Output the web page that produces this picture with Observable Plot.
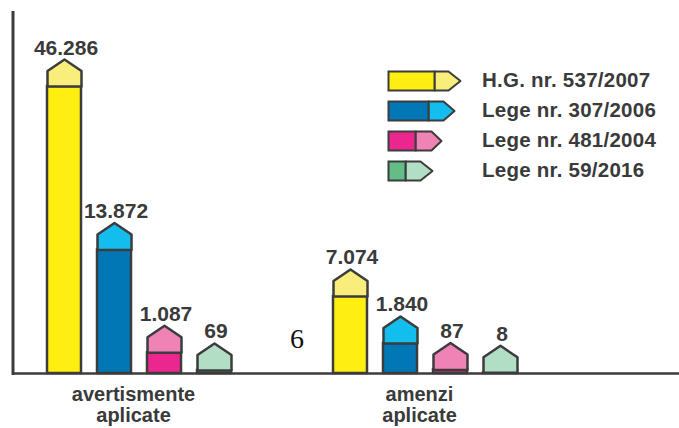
<!DOCTYPE html>
<html>
<head>
<meta charset="utf-8">
<script src="https://cdn.jsdelivr.net/npm/d3@7"></script>
<script src="https://cdn.jsdelivr.net/npm/@observablehq/plot@0.6"></script>
<style>
  body { margin: 0; background: #fff; }
  #wrap { position: relative; width: 679px; height: 428px; font-family: "Liberation Sans", Arial, sans-serif; }
  #wrap svg { display: block; }
  .legend { position: absolute; left: 387px; top: 64.5px; }
  .legend .item { position: relative; height: 30px; width: 290px; }
  .legend .item svg { position: absolute; left: 0; top: 5.5px; }
  .legend .item span { position: absolute; left: 95px; top: 0; line-height: 30px; font-size: 20.5px; letter-spacing: 0.25px; font-weight: bold; color: #3a3a3a; white-space: nowrap; }
  .stray { position: absolute; left: 290px; top: 325px; font-family: "Liberation Serif", "Times New Roman", serif; font-size: 28px; line-height: 28px; color: #111; }
</style>
</head>
<body>
<div id="wrap"></div>
<script>
// ---- data ----
const categories = ["avertismente aplicate", "amenzi aplicate"];
const seriesNames = ["H.G. nr. 537/2007", "Lege nr. 307/2006", "Lege nr. 481/2004", "Lege nr. 59/2016"];
const avertismenteValues = [46286, 13872, 1087, 69];
const amenziValues = [7074, 1840, 87, 8];
const strayLabel = "6";

// ---- styles ----
const bodyColors = ["#FFEE12", "#0177B5", "#EC268F", "#64BC86"];
const capColors = ["#F9EE7C", "#13BDEE", "#EF83B5", "#B2DEC5"];
const outline = "#3c3c3c";
const textColor = "#3a3a3a";
const legendArrow = [ // total length, dark part, tip length
  [72, 46, 12], [66, 40, 11], [53, 27, 10], [44, 17, 12]
];

const rows = [];
categories.forEach((c, ci) => {
  const vals = ci === 0 ? avertismenteValues : amenziValues;
  vals.forEach((v, si) => rows.push({category: c, series: seriesNames[si], si, value: v}));
});

const fmt = d3.formatLocale({decimal: ",", thousands: ".", grouping: [3], currency: ["", ""]}).format(",d");

// pencil-cap shape, drawn upward from the top of the bar body
const capSymbol = {
  draw(ctx) {
    ctx.moveTo(-17, 0);
    ctx.lineTo(-17, -15.5);
    ctx.lineTo(0, -27);
    ctx.lineTo(17, -15.5);
    ctx.lineTo(17, 0);
    ctx.closePath();
  }
};

const step = 50;
const marks = [];
seriesNames.forEach((s, si) => {
  const data = rows.filter(r => r.si === si);
  const dx = (si - 1.5) * step;
  marks.push(Plot.barY(data, {x: "category", y: "value", dx, fill: bodyColors[si], stroke: outline, strokeWidth: 2.5}));
  marks.push(Plot.dot(data, {x: "category", y: "value", dx, symbol: capSymbol, r: 10, fill: capColors[si], stroke: outline, strokeWidth: 2.5, strokeLinejoin: "round"}));
  marks.push(Plot.text(data, {x: "category", y: "value", dx: dx + 1.5, dy: -32, text: d => fmt(d.value), lineAnchor: "bottom", fontSize: 21, fontWeight: "bold", fill: textColor}));
});

marks.push(Plot.ruleY([0], {stroke: outline, strokeWidth: 2.5}));
marks.push(Plot.frame({anchor: "left", stroke: outline, strokeWidth: 3}));
marks.push(Plot.text(categories, {
  x: d => d, frameAnchor: "bottom", dy: 13, dx: -6, lineAnchor: "top", lineHeight: 1.05,
  text: d => d.split(" ").join("\n"), fontSize: 20, fontWeight: "bold", fill: textColor
}));

const chart = Plot.plot({
  width: 679,
  height: 428,
  marginTop: 12,
  marginBottom: 55,
  marginLeft: 12.5,
  marginRight: 0,
  style: {fontFamily: '"Liberation Sans", Arial, sans-serif', background: "#fff", overflow: "visible"},
  x: {domain: categories, paddingInner: 0.8814, paddingOuter: 0.6043, align: 0.316, axis: null},
  y: {type: "pow", exponent: 0.7, domain: [0, 46286], insetTop: 74, axis: null},
  marks
});

const wrap = document.getElementById("wrap");
wrap.appendChild(chart);

// legend
const legend = d3.select(wrap).append("div").attr("class", "legend");
seriesNames.forEach((name, i) => {
  const [L, D, T] = legendArrow[i];
  const item = legend.append("div").attr("class", "item");
  const svg = item.append("svg").attr("width", L + 3).attr("height", 19 + 3);
  const g = svg.append("g").attr("transform", "translate(1.5,1.5)");
  const h = 19;
  g.append("path")
    .attr("d", `M${D},0 L${L - T},0 L${L},${h / 2} L${L - T},${h} L${D},${h} Z`)
    .attr("fill", capColors[i]).attr("stroke", outline).attr("stroke-width", 2).attr("stroke-linejoin", "round");
  g.append("rect").attr("x", 0).attr("y", 0).attr("width", D).attr("height", h)
    .attr("fill", bodyColors[i]).attr("stroke", outline).attr("stroke-width", 2);
  item.append("span").text(name);
});

d3.select(wrap).append("div").attr("class", "stray").text(strayLabel);
</script>
</body>
</html>
